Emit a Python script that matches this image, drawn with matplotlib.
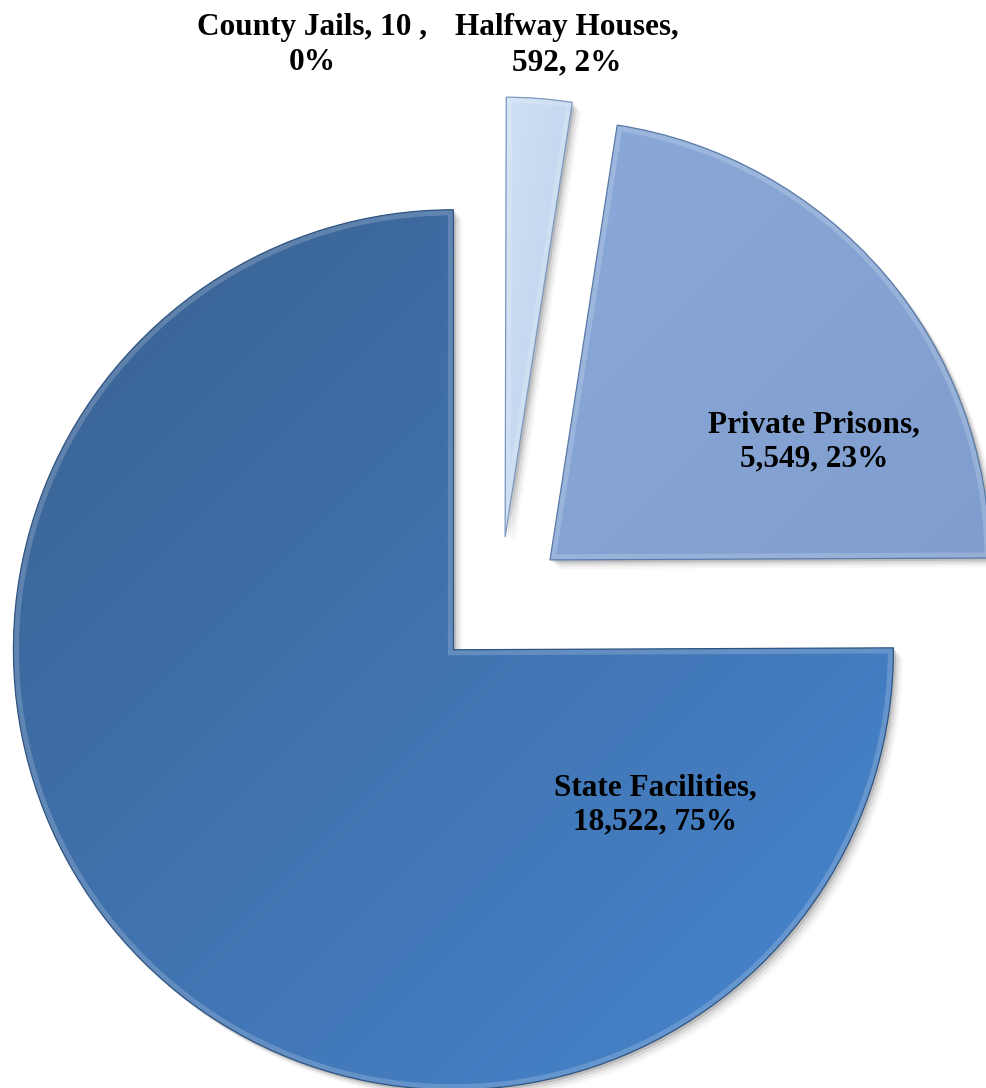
import numpy as np
import matplotlib.pyplot as plt
from matplotlib.patches import PathPatch
from matplotlib.colors import to_rgb
import matplotlib.transforms as mtransforms

# data (Excel order: clockwise from 12 o'clock)
labels = ['County Jails', 'Halfway Houses', 'Private Prisons', 'State Facilities']
counts = [10, 592, 5549, 18522]
label_text = ['County Jails, 10 ,\n0%',
              'Halfway Houses,\n592, 2%',
              'Private Prisons,\n5,549, 23%',
              'State Facilities,\n18,522, 75%']

# gradient colours (top-left -> bottom-right) for each slice
grad_start = ['#dbe8f6', '#d0e1f4', '#8aa9d8', '#3a6190']
grad_end = ['#b9d0ec', '#b8cfeb', '#7f9ecf', '#4786d0']
edge_cols = ['none', '#7a98c0', '#5a7aa8', '#2f5480']

# label positions in data units (pie radius = 1)
label_pos = [(-0.427, 1.268), (0.152, 1.268), (0.714, 0.366), (0.352, -0.459)]

fig = plt.figure(figsize=(9.86, 10.88), dpi=100)
ax = fig.add_axes([0, 0, 1, 1])

wedges, _ = ax.pie(counts, explode=[0.15] * 4, startangle=90, counterclock=False,
                   radius=1, colors=grad_end, wedgeprops=dict(linewidth=0))

# drop shadows
for w in wedges[1:]:
    path = w.get_path()
    for k, a in zip([0.006, 0.011, 0.016, 0.021], [0.12, 0.08, 0.05, 0.03]):
        tr = mtransforms.Affine2D().translate(k, -k) + ax.transData
        sh = PathPatch(path, transform=tr, facecolor='black', edgecolor='none',
                       alpha=a, zorder=0.5)
        ax.add_patch(sh)

# gradient fill + bevel
for w, c0, c1, ec in zip(wedges, grad_start, grad_end, edge_cols):
    w.set_zorder(1)
    if ec == 'none':
        w.set_visible(False)
        continue
    bb = w.get_path().get_extents()
    n = 200
    xx, yy = np.meshgrid(np.linspace(0, 1, n), np.linspace(0, 1, n))
    t = ((xx + yy) / 2.0)[..., None]
    img = (1 - t) * np.array(to_rgb(c0)) + t * np.array(to_rgb(c1))
    im = ax.imshow(img, extent=[bb.x0, bb.x1, bb.y0, bb.y1], origin='upper',
                   interpolation='bilinear', zorder=2, aspect='auto')
    im.set_clip_path(w)
    # light bevel along the inside of the edge
    bev = PathPatch(w.get_path(), transform=ax.transData, facecolor='none',
                    edgecolor='white', linewidth=8, alpha=0.18, zorder=3)
    ax.add_patch(bev)
    bev.set_clip_path(w)
    out = PathPatch(w.get_path(), transform=ax.transData, facecolor='none',
                    edgecolor=ec, linewidth=0.9, zorder=4)
    ax.add_patch(out)

for txt, (x, y) in zip(label_text, label_pos):
    ax.text(x, y, txt, ha='center', va='center', fontsize=22.5, fontweight='bold',
            family='Liberation Serif', color='black', linespacing=1.26, zorder=5)

# centre of pie sits at pixel (500, 603), 440 px per unit
ax.set_xlim(-500 / 440, (986 - 500) / 440)
ax.set_ylim(-(1088 - 603) / 440, 603 / 440)
ax.set_aspect('auto')
ax.axis('off')

fig.savefig('out.png', dpi=100, facecolor='white')
